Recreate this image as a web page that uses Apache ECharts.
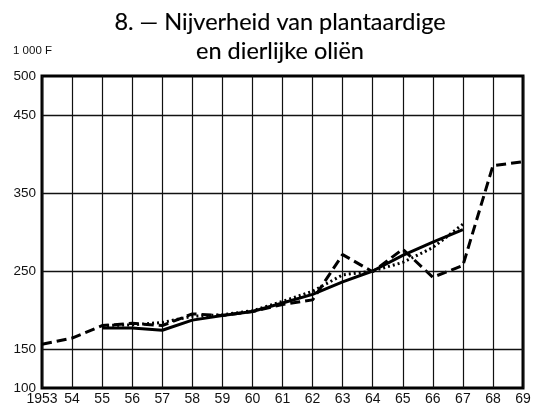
<!DOCTYPE html>
<html>
<head>
<meta charset="utf-8">
<script src="https://cdn.jsdelivr.net/npm/echarts@6/dist/echarts.min.js"></script>
<style>
html,body{margin:0;padding:0;background:#fff;}
#c{width:539px;height:408px;}
</style>
</head>
<body>
<div id="c"></div>
<script>
// Data
const dashedYears = [1953,1954,1955,1956,1957,1958,1959,1960,1961,1962,1963,1964,1965,1966,1967,1968,1969];
const dashedValues = [156,164,180,183,180,195,193,198,207,213,271,249,278,242,257,385,390];
const solidYears = [1955,1956,1957,1958,1959,1960,1961,1962,1963,1964,1965,1966,1967];
const solidValues = [177,177,174,187,193,198,209,220,236,250,270,287,303];
const dottedYears = [1955,1956,1957,1958,1959,1960,1961,1962,1963,1964,1965,1966,1967];
const dottedValues = [180,181,184,192,194,199,211,224,245,250,261,280,310];
const yTickLabels = [100,150,250,350,450,500];
const yGridLines = [150,250,350,450];
const xTickLabels = {1953:'1953',1954:'54',1955:'55',1956:'56',1957:'57',1958:'58',1959:'59',1960:'60',1961:'61',1962:'62',1963:'63',1964:'64',1965:'65',1966:'66',1967:'67',1968:'68',1969:'69'};

const pair = (xs, vs) => xs.map((x, i) => [x, vs[i]]);

const chart = echarts.init(document.getElementById('c'), null, {renderer:'canvas'});
chart.setOption({
  animation: false,
  backgroundColor: '#fff',
  title: {
    text: '8. — Nijverheid van plantaardige\nen dierlijke oliën',
    left: 275, top: 3, textAlign: 'center',
    textStyle: {fontFamily: 'Lato', fontSize: 23.5, fontWeight: 'normal', color: '#000', lineHeight: 29,
      textBorderColor: '#000', textBorderWidth: 0.15}
  },
  graphic: [{
    type: 'text', left: 13, top: 45,
    style: {text: '1 000 F', font: '11.5px "Liberation Sans"', fill: '#111'}
  }],
  grid: {left: 42, right: 16, top: 76, bottom: 20, show: true, borderColor: '#000', borderWidth: 3, backgroundColor: 'transparent'},
  xAxis: {
    type: 'value', min: 1953, max: 1969, interval: 1,
    axisLine: {show: false}, axisTick: {show: false},
    splitLine: {show: true, lineStyle: {color: '#111', width: 1.2}},
    axisLabel: {margin: 4, color: '#111', fontFamily: 'Liberation Sans', fontSize: 14,
      formatter: v => xTickLabels[v] || ''}
  },
  yAxis: {
    type: 'value', min: 100, max: 500, interval: 50,
    axisLine: {show: false}, axisTick: {show: false}, splitLine: {show: false},
    axisLabel: {margin: 6, color: '#111', fontFamily: 'Liberation Sans', fontSize: 13.5,
      formatter: v => yTickLabels.indexOf(v) >= 0 ? String(v) : ''}
  },
  series: [
    {
      type: 'line', data: pair(dashedYears, dashedValues), symbol: 'none',
      lineStyle: {color: '#000', width: 3, type: [10, 5]},
      markLine: {
        silent: true, symbol: 'none', label: {show: false},
        lineStyle: {color: '#111', width: 1.3, type: 'solid'},
        data: yGridLines.map(v => ({yAxis: v}))
      },
      z: 3
    },
    {
      type: 'line', data: pair(solidYears, solidValues), symbol: 'none',
      lineStyle: {color: '#000', width: 3, type: 'solid'}, z: 4
    },
    {
      type: 'line', data: pair(dottedYears, dottedValues), symbol: 'none',
      lineStyle: {color: '#000', width: 3, type: [2, 3]}, z: 5
    }
  ]
});
</script>
</body>
</html>
